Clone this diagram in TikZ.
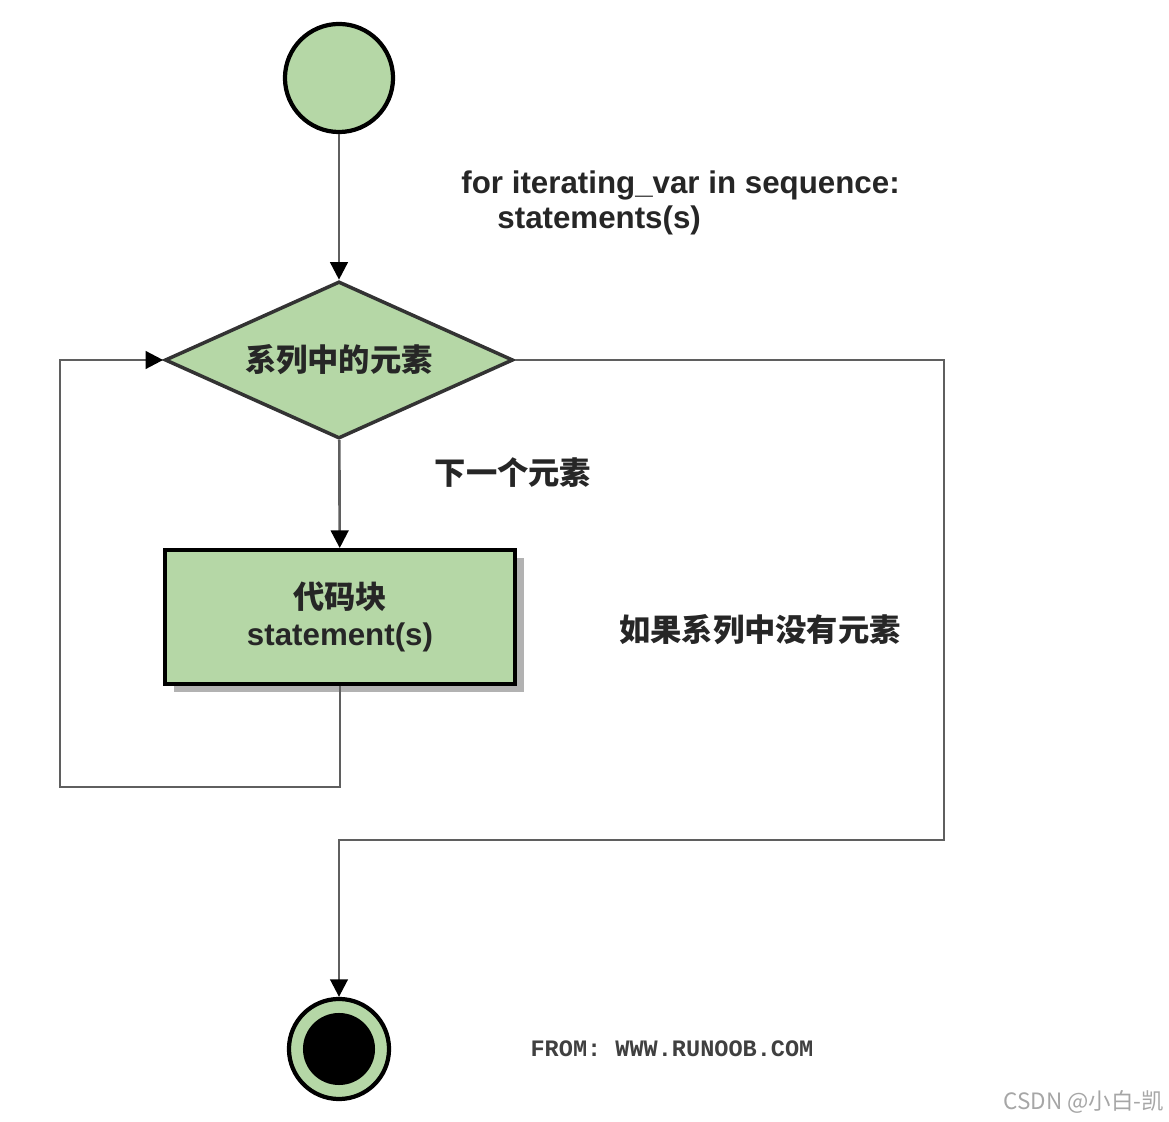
\documentclass[tikz,border=0pt]{standalone}
\usepackage{fontspec}
\setmainfont{Liberation Sans}
\newfontfamily\cjk{Noto Sans CJK SC}
\newfontfamily\monofont{Liberation Mono}
\usetikzlibrary{shapes.geometric,arrows.meta,shadows}
\definecolor{verde}{RGB}{181,215,166}
\definecolor{linea}{RGB}{95,95,95}
\tikzset{
  testo/.style={font=\fontsize{8.9}{10.5}\selectfont\bfseries, text=black!85},
  flusso/.style={draw=linea, line width=0.75pt, -{Triangle[length=5pt,width=5pt,fill=black,color=black]}},
}
\begin{document}
\begin{tikzpicture}[x=0.01cm,y=-0.01cm]
        \useasboundingbox (0,0) rectangle (1169,1122);
        %nodo iniziale
        \node[circle, draw=black, line width=1.2pt, fill=verde, minimum size=1.08cm] (inizio) at (339,78) {};
        %condizione
        \node[diamond, draw=black!80, line width=1pt, fill=verde, aspect=2.2, inner sep=0pt,
              minimum width=3.48cm, minimum height=1.57cm, testo] (cond) at (339,360) {\cjk\bfseries 系列中的元素};
        %blocco di codice
        \node[rectangle, draw=black, line width=1.1pt, fill=verde, minimum width=3.5cm, minimum height=1.34cm,
              align=center, testo, drop shadow={shadow xshift=0.09cm, shadow yshift=-0.08cm, fill=black!30, opacity=1}]
              (corpo) at (340,617) {{\cjk\bfseries 代码块}\\\textbf{statement(s)}};
        %nodo finale
        \node[circle, draw=black, line width=1.2pt, fill=verde, minimum size=1.0cm] (fine) at (339,1049) {};
        \node[circle, fill=black, minimum size=0.72cm] (finein) at (fine.center) {};
        %etichette
        \node[testo, anchor=west] (codice1) at (449,185) {for iterating\_var in sequence:};
        \node[testo, anchor=west] (codice2) at (485,220) {statements(s)};
        \node[testo] (prossimo) at (513,473) {\cjk\bfseries 下一个元素};
        \node[testo] (vuoto) at (760,630) {\cjk\bfseries 如果系列中没有元素};
        \node[font=\monofont\fontsize{6.7}{8}\selectfont\bfseries, text=black!75] (fonte) at (672,1049) {FROM: WWW.RUNOOB.COM};
        \node[font=\cjk\fontsize{6.4}{7}\selectfont, text=black!35, anchor=east, inner sep=0pt] (marchio) at (1165,1102) {CSDN @小白-凯};
        %coordinate dei percorsi
        \coordinate (ciclo) at (60,787);
        \coordinate (uscita) at (944,840);
        %frecce
        \draw[flusso] (inizio) -- (cond);
        \draw[flusso] (cond) -- (corpo);
        \draw[flusso] (corpo.south) |- (ciclo) |- (cond.west);
        \draw[flusso] (cond.east) -| (uscita) -| (fine);
    \end{tikzpicture}
\end{document}
